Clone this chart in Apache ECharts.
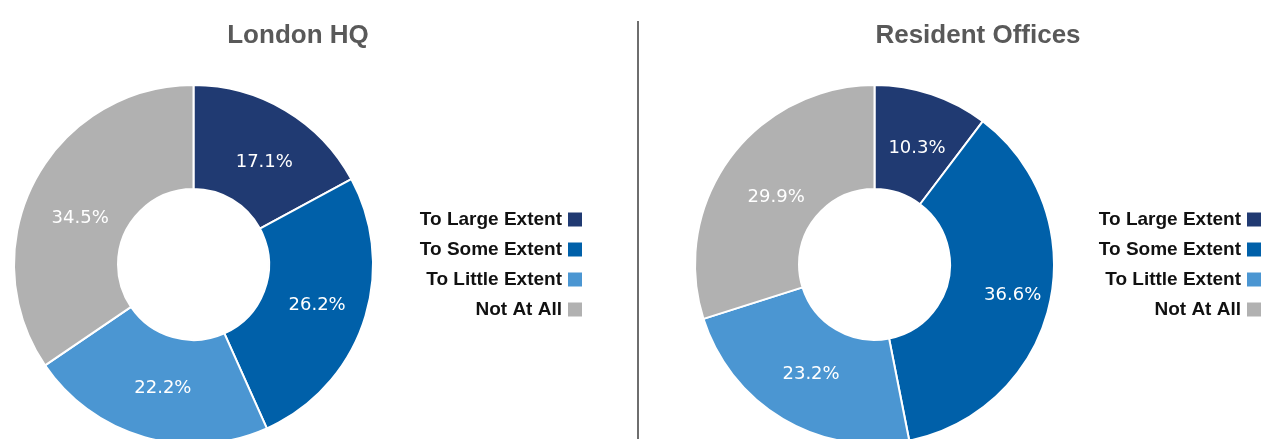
<!DOCTYPE html>
<html>
<head>
<meta charset="utf-8">
<script src="https://cdn.jsdelivr.net/npm/echarts@6/dist/echarts.min.js"></script>
<style>
  html, body { margin: 0; padding: 0; background: #ffffff; }
  #chart { width: 1262px; height: 439px; }
</style>
</head>
<body>
<div id="chart"></div>
<script>
// Survey response categories and their share of respondents (%)
const categories = ['To Large Extent', 'To Some Extent', 'To Little Extent', 'Not At All'];
const londonValues = [17.1, 26.2, 22.2, 34.5];
const residentValues = [10.3, 36.6, 23.2, 29.9];
const panelTitles = ['London HQ', 'Resident Offices'];

const colors = ['#203a72', '#0060a9', '#4b96d2', '#b1b1b1'];

// Small hand nudges for the in-slice percentage labels [dx, dy]
const londonLabelNudge = [[4, 10], [0, -1], [5, -2], [2, 15]];
const residentLabelNudge = [[1, 8], [11, 2], [3, -2], [7, 10]];

const chart = echarts.init(document.getElementById('chart'), null, { renderer: 'canvas' });

function donut(values, center, nudges) {
  return {
    type: 'pie',
    center: center,
    radius: [75.5, 179.5],
    startAngle: 90,
    clockwise: true,
    silent: true,
    avoidLabelOverlap: false,
    data: categories.map((name, i) => ({
      name: name,
      value: values[i],
      label: { offset: nudges[i] }
    })),
    itemStyle: { borderColor: '#ffffff', borderWidth: 2 },
    label: {
      show: true,
      position: 'inside',
      formatter: p => p.value.toFixed(1) + '%',
      color: '#ffffff',
      fontFamily: 'DejaVu Sans',
      fontSize: 18
    },
    labelLine: { show: false },
    emphasis: { disabled: true }
  };
}

// One legend entry per row so the swatches line up on the right edge
function legendRows(rightOffset) {
  return categories.map((name, i) => ({
    data: [name],
    orient: 'vertical',
    align: 'right',
    right: rightOffset,
    top: 210 + i * 30,
    padding: 0,
    itemWidth: 14,
    itemHeight: 14,
    icon: 'rect',
    selectedMode: false,
    itemStyle: { borderWidth: 0 },
    textStyle: {
      color: '#111111',
      fontFamily: 'Liberation Sans, Arial, sans-serif',
      fontWeight: 'bold',
      fontSize: 19,
      padding: [0, 1, 0, 0]
    }
  }));
}

chart.setOption({
  animation: false,
  color: colors,
  legend: [...legendRows(680), ...legendRows(1)],
  graphic: [
    {
      type: 'text',
      x: 298, y: 36,
      style: {
        text: panelTitles[0],
        textAlign: 'center',
        textVerticalAlign: 'middle',
        fill: '#595959',
        font: 'bold 26px "Liberation Sans", Arial, sans-serif'
      }
    },
    {
      type: 'text',
      x: 978, y: 36,
      style: {
        text: panelTitles[1],
        textAlign: 'center',
        textVerticalAlign: 'middle',
        fill: '#595959',
        font: 'bold 26px "Liberation Sans", Arial, sans-serif'
      }
    },
    {
      type: 'line',
      shape: { x1: 638, y1: 21, x2: 638, y2: 439 },
      style: { stroke: '#6e6e6e', lineWidth: 2 }
    }
  ],
  series: [
    donut(londonValues, [193.5, 264.5], londonLabelNudge),
    donut(residentValues, [874.5, 264.5], residentLabelNudge)
  ]
});
</script>
</body>
</html>
